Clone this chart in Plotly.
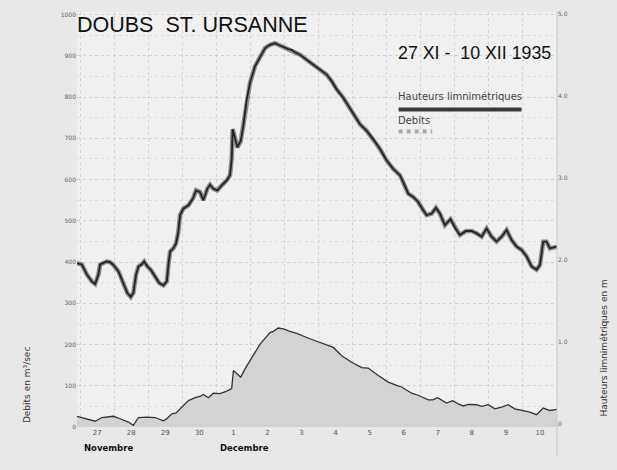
from datetime import datetime, timedelta
import plotly.graph_objects as go

# Doubs a St. Ursanne, crue du 27 XI au 10 XII 1935
start = datetime(1935, 11, 27)

# Upper curve: hours after 27 XI 00h, heights in m (right axis)
hours_up = [-2.2, 1.2, 4.7, 8.2, 10.6, 12.9, 14.1, 16.4, 18.8, 21.1, 23.4, 27.0,
            30.5, 33.3, 35.7, 37.5, 39.4, 41.1, 43.4, 45.1, 47.4, 49.8, 52.8,
            55.8, 58.7, 61.1, 62.2, 63.4, 65.7, 67.6, 69.2, 70.4, 72.7, 76.3,
            79.4, 81.7, 84.5, 86.8, 89.6, 91.5, 93.9, 96.7, 99.8, 103.3, 105.6,
            106.8, 107.5, 109.2, 110.8, 113.2, 115.0, 117.4, 119.7, 123.2, 126.8,
            130.3, 133.8, 137.3, 139.6, 143.2, 146.7, 149.1, 151.4, 154.9, 159.6,
            164.3, 169.0, 173.7, 177.2, 180.8, 185.4, 189.0, 192.5, 197.2, 201.9,
            206.5, 211.3, 216.0, 220.6, 225.4, 227.7, 231.2, 234.7, 238.2, 241.8,
            244.1, 247.7, 250.7, 253.5, 257.0, 261.0, 264.1, 267.6, 271.8, 275.8,
            279.4, 282.9, 286.4, 289.9, 293.4, 297.0, 300.5, 304.0, 307.5, 311.1,
            314.6, 318.1, 321.6, 324.0, 326.3, 328.6, 331.0, 336.0]
hauteurs = [1.956, 1.941, 1.820, 1.735, 1.702, 1.820, 1.941, 1.956, 1.977, 1.969,
            1.937, 1.856, 1.714, 1.593, 1.545, 1.593, 1.816, 1.916, 1.944, 1.977,
            1.916, 1.877, 1.795, 1.714, 1.686, 1.735, 1.937, 2.098, 2.138, 2.199,
            2.340, 2.542, 2.622, 2.663, 2.743, 2.845, 2.824, 2.724, 2.864, 2.913,
            2.864, 2.845, 2.906, 2.966, 3.030, 3.228, 3.591, 3.470, 3.369, 3.450,
            3.632, 3.954, 4.156, 4.358, 4.479, 4.580, 4.620, 4.640, 4.620, 4.592,
            4.568, 4.559, 4.528, 4.499, 4.438, 4.378, 4.317, 4.257, 4.177, 4.075,
            3.975, 3.874, 3.772, 3.651, 3.571, 3.470, 3.349, 3.208, 3.107, 3.027,
            2.946, 2.804, 2.764, 2.703, 2.603, 2.542, 2.562, 2.631, 2.562, 2.421,
            2.494, 2.389, 2.300, 2.349, 2.349, 2.320, 2.280, 2.380, 2.280, 2.220,
            2.280, 2.361, 2.240, 2.159, 2.119, 2.038, 1.917, 1.877, 1.937, 2.219,
            2.219, 2.138, 2.159]

# Lower curve: debits in m3/sec (left axis)
hours_q = [-2.2, 3.5, 10.6, 15.3, 23.4, 28.2, 34.0, 37.5, 41.1, 47.0, 52.8, 58.7,
           61.1, 64.6, 67.6, 71.6, 76.3, 81.0, 84.5, 86.8, 90.4, 93.9, 98.6,
           103.3, 106.8, 108.0, 110.3, 113.2, 116.2, 120.9, 126.8, 133.8, 136.1,
           139.6, 143.2, 147.9, 152.6, 161.9, 169.0, 178.4, 184.3, 191.3, 198.4,
           203.0, 210.1, 217.1, 223.0, 226.5, 233.6, 238.2, 245.3, 248.4, 251.9,
           258.2, 262.5, 266.4, 269.9, 273.4, 279.4, 282.9, 287.5, 292.2, 297.0,
           301.6, 306.3, 311.1, 316.9, 321.6, 326.3, 331.0, 336.0]
debits = [26, 20, 14, 23, 26, 20, 12, 4, 23, 24, 23, 15, 20, 32, 34, 48, 64, 71,
          74, 79, 71, 82, 81, 87, 93, 137, 130, 121, 141, 169, 201, 229, 232, 240,
          238, 232, 227, 214, 205, 193, 173, 157, 144, 143, 125, 109, 101, 97, 82,
          77, 66, 66, 71, 58, 64, 56, 51, 55, 54, 50, 54, 44, 48, 54, 44, 40, 36,
          30, 46, 40, 43]

day_labels = ['27', '28', '29', '30', '1', '2', '3', '4', '5', '6', '7', '8', '9', '10']
left_ticks = [0, 100, 200, 300, 400, 500, 600, 700, 800, 900, 1000]
right_ticks = [0, 1, 2, 3, 4, 5]
right_labels = ['0', '1.0', '2.0', '3.0', '4.0', '5.0']

t_up = [start + timedelta(hours=h) for h in hours_up]
t_q = [start + timedelta(hours=h) for h in hours_q]
noons = [start + timedelta(days=i, hours=12) for i in range(len(day_labels))]

ink = '#222222'
tickfont = dict(family='DejaVu Sans', size=6, color='#666666')

fig = go.Figure()
fig.add_trace(go.Scatter(
    x=t_q, y=debits, mode='lines', fill='tozeroy',
    fillcolor='#d3d3d3', line=dict(color='#333333', width=1.3),
    yaxis='y', showlegend=False))
fig.add_trace(go.Scatter(
    x=t_up, y=hauteurs, mode='lines',
    line=dict(color='#8c8c8c', width=4.5), yaxis='y2', showlegend=False))
fig.add_trace(go.Scatter(
    x=t_up, y=hauteurs, mode='lines',
    line=dict(color=ink, width=1.8), yaxis='y2', showlegend=False))

fig.update_layout(
    width=617, height=470,
    margin=dict(l=77, r=60, t=10, b=43),
    paper_bgcolor='#e8e8e8',
    plot_bgcolor='#f0f0f0',
    font=dict(family='DejaVu Sans', color=ink),
    xaxis=dict(
        type='date',
        range=[start - timedelta(hours=2.2), start + timedelta(days=14)],
        tickvals=noons, ticktext=day_labels,
        tickfont=dict(family='DejaVu Sans', size=7, color='#555555'),
        showgrid=False, zeroline=False, showline=False, ticks='',
        minor=dict(dtick=86400000, tick0='1935-11-27', showgrid=True,
                   gridcolor='#d2d2d2', griddash='dot', gridwidth=1),
    ),
    yaxis=dict(
        range=[0, 1006.5], tickvals=left_ticks, tickfont=tickfont,
        showgrid=True, gridcolor='#cfcfcf', griddash='dot', gridwidth=1,
        zeroline=False, ticks='',
        minor=dict(dtick=50, showgrid=True, gridcolor='#dcdcdc',
                   griddash='dot', gridwidth=1),
    ),
    yaxis2=dict(
        overlaying='y', side='right', range=[-0.041, 5.02],
        tickvals=right_ticks, ticktext=right_labels, tickfont=tickfont,
        showgrid=False, zeroline=False, ticks='',
    ),
    annotations=[
        dict(text='DOUBS  ST. URSANNE', xref='paper', yref='paper',
             x=-0.004, y=0.968, xanchor='left', yanchor='middle', showarrow=False,
             font=dict(family='Liberation Sans', size=21.5, color='#111111')),
        dict(text='27 XI -  10 XII 1935', xref='paper', yref='paper',
             x=0.664, y=0.9, xanchor='left', yanchor='middle', showarrow=False,
             font=dict(family='Liberation Sans', size=17.8, color='#111111')),
        dict(text='Hauteurs limnimétriques', xref='paper', yref='paper',
             x=0.664, y=0.797, xanchor='left', yanchor='middle', showarrow=False,
             font=dict(family='DejaVu Sans', size=10, color='#444444')),
        dict(text='Debits', xref='paper', yref='paper',
             x=0.664, y=0.738, xanchor='left', yanchor='middle', showarrow=False,
             font=dict(family='DejaVu Sans', size=10, color='#444444')),
        dict(text='<b>Novembre</b>', xref='paper', yref='paper',
             x=0.01, y=-0.05, xanchor='left', yanchor='middle', showarrow=False,
             font=dict(family='DejaVu Sans', size=8.5, color='#111111')),
        dict(text='<b>Decembre</b>', xref='paper', yref='paper',
             x=0.293, y=-0.05, xanchor='left', yanchor='middle', showarrow=False,
             font=dict(family='DejaVu Sans', size=8.5, color='#111111')),
        dict(text='Debits en m³/sec', xref='paper', yref='paper',
             x=-0.105, y=0.1, textangle=-90, xanchor='center', yanchor='middle',
             showarrow=False,
             font=dict(family='DejaVu Sans', size=9, color='#333333')),
        dict(text='Hauteurs limnimétriques en m', xref='paper', yref='paper',
             x=1.098, y=0.189, textangle=-90, xanchor='center', yanchor='middle',
             showarrow=False,
             font=dict(family='DejaVu Sans', size=9, color='#333333')),
    ],
    shapes=[
        dict(type='line', xref='paper', yref='paper', x0=0.67, x1=0.926,
             y0=0.765, y1=0.765, line=dict(color='#3a3a3a', width=4)),
        dict(type='line', xref='paper', yref='paper', x0=0.67, x1=0.74,
             y0=0.712, y1=0.712, line=dict(color='#a8a8a8', width=4, dash='dot')),
        dict(type='line', xref='paper', yref='paper', x0=1, x1=1, y0=-0.07,
             y1=1, line=dict(color='#c8c8c8', width=1)),
    ],
)

# drop the page margin so the figure sits at the window's top-left corner
fig.write_html('out.html', config={'displayModeBar': False},
               post_script="document.body.style.margin='0';")
